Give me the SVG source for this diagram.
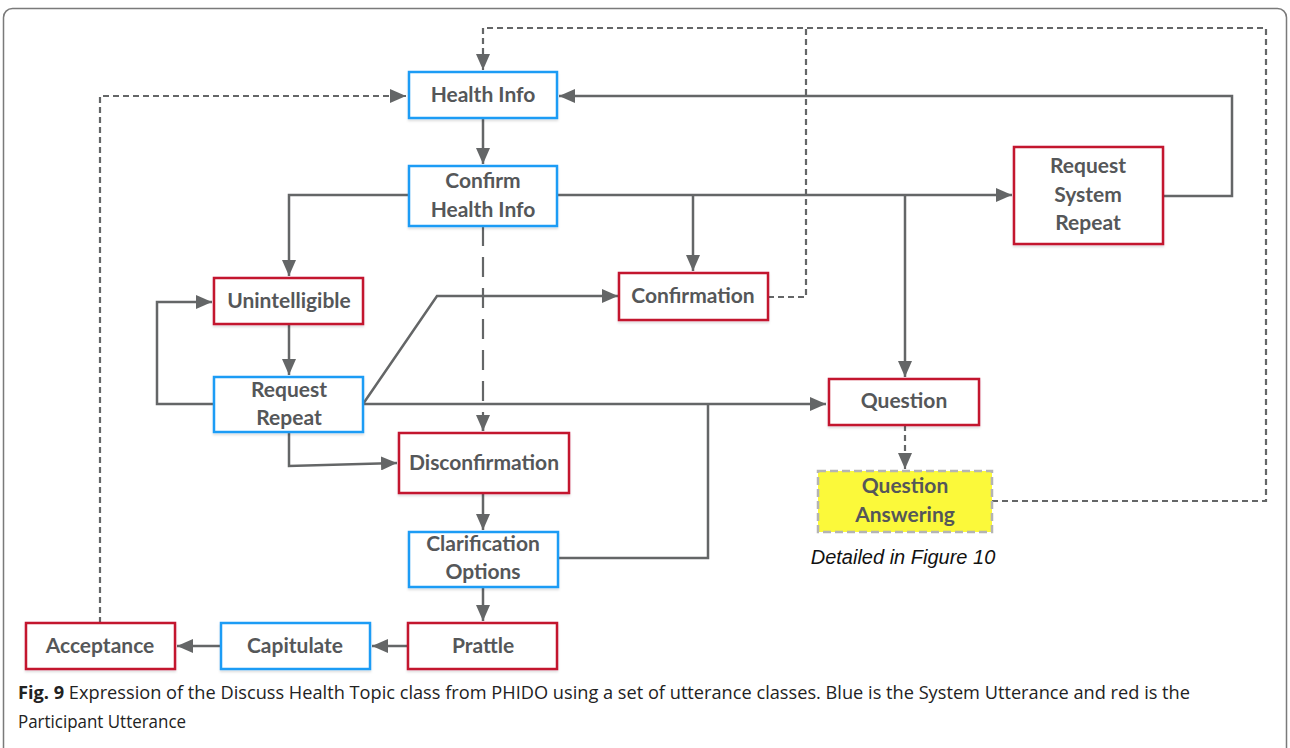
<svg xmlns="http://www.w3.org/2000/svg" width="1290" height="748" viewBox="0 0 1290 748">
  <defs>
    <marker id="arrow" viewBox="0 0 16 14" refX="16" refY="7" markerWidth="16" markerHeight="14" markerUnits="userSpaceOnUse" orient="auto">
      <path d="M0,0 L16,7 L0,14 Z" fill="#646667"/>
    </marker>
    <filter id="shadow" x="-5%" y="-5%" width="110%" height="120%">
      <feDropShadow dx="0" dy="2" stdDeviation="1.2" flood-color="#000" flood-opacity="0.12"/>
    </filter>
    <style>
      .frame { fill: #fff; stroke: #7a7a7a; stroke-width: 1.5; }
      .sys { fill: #fff; stroke: #1e9cf5; stroke-width: 2.5; filter: url(#shadow); }
      .par { fill: #fff; stroke: #c3152f; stroke-width: 2.5; filter: url(#shadow); }
      .qa { fill: #fbf93a; stroke: #b4b4b4; stroke-width: 2.5; stroke-dasharray: 8 4; }
      .label { font-family: Lato, "Liberation Sans", sans-serif; font-weight: 700; font-size: 21px; fill: #555759; text-anchor: middle; }
      .note { font-family: "Liberation Sans", Arial, sans-serif; font-style: italic; font-size: 20px; fill: #111; text-anchor: middle; }
      .caption { font-family: "Open Sans", "Liberation Sans", sans-serif; font-size: 18.5px; fill: #222; }
      .caption .b { font-weight: 700; }
      .edge { fill: none; stroke: #646667; stroke-width: 2.5; }
      .dash { fill: none; stroke: #646667; stroke-width: 2.2; stroke-dasharray: 6 4; }
      .longdash { fill: none; stroke: #646667; stroke-width: 2.2; stroke-dasharray: 20 11; }
    </style>
  </defs>

  <!-- figure frame -->
  <rect class="frame" x="3.5" y="8.5" width="1283" height="760" rx="9"/>

  <!-- connectors -->
  <g id="connectors">
    <!-- solid flows -->
    <path class="edge" d="M483,118 V164" marker-end="url(#arrow)"/>
    <path class="edge" d="M557,195 H1012" marker-end="url(#arrow)"/>
    <path class="edge" d="M408,195 H289 V276" marker-end="url(#arrow)"/>
    <path class="edge" d="M693,195 V271" marker-end="url(#arrow)"/>
    <path class="edge" d="M905,195 V377" marker-end="url(#arrow)"/>
    <path class="edge" d="M1163,196 H1232 V96 H559" marker-end="url(#arrow)"/>
    <path class="edge" d="M289,324 V375" marker-end="url(#arrow)"/>
    <path class="edge" d="M214,404 H157 V302 H212" marker-end="url(#arrow)"/>
    <path class="edge" d="M363,404 L437,296 H618" marker-end="url(#arrow)"/>
    <path class="edge" d="M363,404 H826" marker-end="url(#arrow)"/>
    <path class="edge" d="M289,432 V466 L397,463" marker-end="url(#arrow)"/>
    <path class="edge" d="M483,494 V530" marker-end="url(#arrow)"/>
    <path class="edge" d="M558,558 H708 V404"/>
    <path class="edge" d="M483,587 V621" marker-end="url(#arrow)"/>
    <path class="edge" d="M408,646 H372" marker-end="url(#arrow)"/>
    <path class="edge" d="M221,646 H177" marker-end="url(#arrow)"/>
    <!-- dashed flows -->
    <path class="longdash" d="M483,226 V431" />
    <path class="edge" d="M483,420 V431" marker-end="url(#arrow)"/>
    <path class="dash" d="M992,501 H1266 V28 H483 V70" marker-end="url(#arrow)"/>
    <path class="dash" d="M768,297 H806 V28"/>
    <path class="dash" d="M905,425 V469" marker-end="url(#arrow)"/>
    <path class="dash" d="M100,623 V96 H406" marker-end="url(#arrow)"/>
  </g>

  <!-- nodes -->
  <g id="health-info">
    <rect class="sys" x="409" y="72" width="148" height="46"/>
    <text class="label" x="483" y="102">Health Info</text>
  </g>
  <g id="confirm-health-info">
    <rect class="sys" x="409" y="166" width="148" height="60"/>
    <text class="label" x="483" y="188">Confirm</text>
    <text class="label" x="483" y="217">Health Info</text>
  </g>
  <g id="request-system-repeat">
    <rect class="par" x="1014" y="147" width="149" height="97"/>
    <text class="label" x="1088" y="173">Request</text>
    <text class="label" x="1088" y="202">System</text>
    <text class="label" x="1088" y="230">Repeat</text>
  </g>
  <g id="unintelligible">
    <rect class="par" x="214" y="278" width="149" height="46"/>
    <text class="label" x="289" y="308">Unintelligible</text>
  </g>
  <g id="confirmation">
    <rect class="par" x="619" y="273" width="149" height="47"/>
    <text class="label" x="693" y="303">Confirmation</text>
  </g>
  <g id="request-repeat">
    <rect class="sys" x="214" y="377" width="149" height="55"/>
    <text class="label" x="289" y="397">Request</text>
    <text class="label" x="289" y="425">Repeat</text>
  </g>
  <g id="question">
    <rect class="par" x="829" y="379" width="150" height="46"/>
    <text class="label" x="904" y="408">Question</text>
  </g>
  <g id="disconfirmation">
    <rect class="par" x="399" y="433" width="170" height="60"/>
    <text class="label" x="484" y="470">Disconfirmation</text>
  </g>
  <g id="question-answering">
    <rect class="qa" x="818" y="471" width="174" height="61"/>
    <text class="label" x="905" y="493">Question</text>
    <text class="label" x="905" y="522">Answering</text>
    <text class="note" x="903" y="564">Detailed in Figure 10</text>
  </g>
  <g id="clarification-options">
    <rect class="sys" x="409" y="532" width="149" height="55"/>
    <text class="label" x="483" y="551">Clarification</text>
    <text class="label" x="483" y="579">Options</text>
  </g>
  <g id="acceptance">
    <rect class="par" x="26" y="623" width="149" height="46"/>
    <text class="label" x="100" y="653">Acceptance</text>
  </g>
  <g id="capitulate">
    <rect class="sys" x="221" y="623" width="149" height="46"/>
    <text class="label" x="295" y="653">Capitulate</text>
  </g>
  <g id="prattle">
    <rect class="par" x="408" y="623" width="149" height="46"/>
    <text class="label" x="483" y="653">Prattle</text>
  </g>

  <!-- caption -->
  <text class="caption" x="18" y="699" textLength="1172" lengthAdjust="spacingAndGlyphs"><tspan class="b">Fig. 9</tspan> Expression of the Discuss Health Topic class from PHIDO using a set of utterance classes. Blue is the System Utterance and red is the</text>
  <text class="caption" x="18" y="728" textLength="168" lengthAdjust="spacingAndGlyphs">Participant Utterance</text>
</svg>
